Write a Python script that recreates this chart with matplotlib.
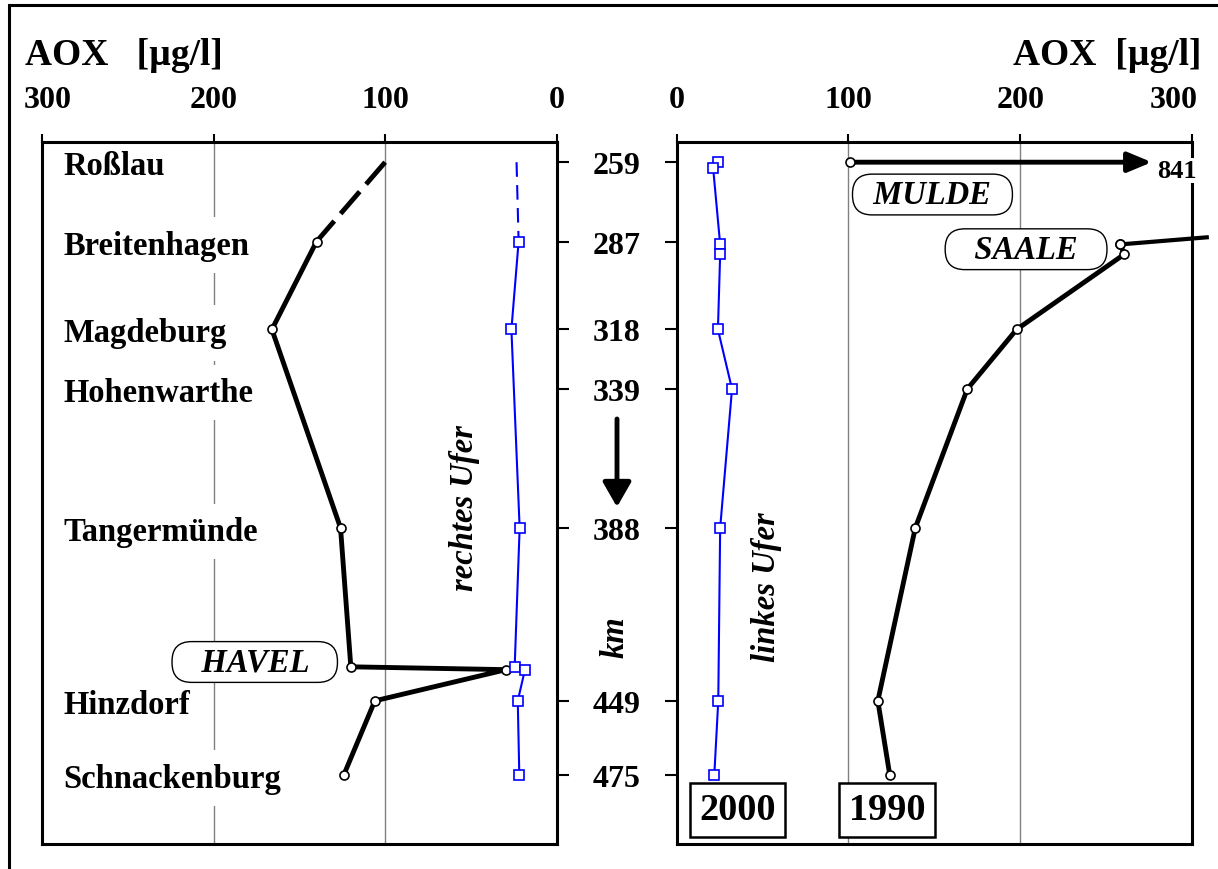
import matplotlib.pyplot as plt
from matplotlib.patches import Rectangle
from matplotlib.transforms import ScaledTranslation

# Elbe km and station names
km_ticks = [259, 287, 318, 339, 388, 449, 475]
stations = ['Roßlau', 'Breitenhagen', 'Magdeburg', 'Hohenwarthe',
            'Tangermünde', 'Hinzdorf', 'Schnackenburg']

# rechtes Ufer (left panel)
km_r90 = [259, 287, 318, 388, 437, 438, 449, 475]
aox_r90 = [100, 140, 166, 126, 120, 29.5, 106, 124]
km_r00 = [259, 287, 318, 388, 437, 438, 449, 475]
aox_r00 = [23.4, 22.2, 26.4, 21.6, 24.5, 18.5, 22.7, 21.8]

# linkes Ufer (right panel)
km_l90 = [288, 291.5, 318, 339, 388, 449, 475]
aox_l90 = [258.3, 260.5, 197.9, 169.2, 138.9, 117.1, 124.0]
km_l00 = [259, 261, 288, 291.5, 318, 339, 388, 449, 475]
aox_l00 = [24.2, 21.2, 25.3, 25.3, 24.0, 32.2, 25.3, 24.2, 21.9]

# tributaries
saale_km = [285.5, 288]
saale_aox = [308.6, 258.3]
mulde_km = 259
mulde_aox = 101
mulde_value = '841'

plt.rcParams['font.family'] = ['Liberation Serif', 'DejaVu Serif']
plt.rcParams['font.weight'] = 'bold'

W, H = 1218, 870
fig = plt.figure(figsize=(W / 100, H / 100), dpi=100)

bottom = 1 - 845 / H
height = (845 - 142.5) / H
axL = fig.add_axes([42 / W, bottom, (556.7 - 42) / W, height])
axR = fig.add_axes([676.7 / W, bottom, (1192 - 676.7) / W, height])

for ax in (axL, axR):
    ax.set_ylim(499.5, 251.7)
    ax.xaxis.tick_top()
    ax.set_xticks([0, 100, 200, 300])
    ax.tick_params(axis='x', direction='out', length=5.8, width=1.5, pad=14, labelsize=23)
    for s in ax.spines.values():
        s.set_linewidth(2.2)
    for g in (100, 200):
        ax.axvline(g, color='#808080', lw=1, zorder=0.5)
    ax.set_yticks(km_ticks)

axL.set_xlim(300, 0)
axR.set_xlim(0, 300)
axL.yaxis.tick_right()
axL.tick_params(axis='y', direction='out', length=8.6, width=1.5, labelright=False)
axR.yaxis.tick_left()
axR.tick_params(axis='y', direction='out', length=8.6, width=1.5, pad=17.5, labelsize=23)

# nudge the outer "300" labels like in the original
axL.get_xticklabels()[3].set_transform(
    axL.get_xticklabels()[3].get_transform() + ScaledTranslation(0.06, 0, fig.dpi_scale_trans))
axR.get_xticklabels()[3].set_transform(
    axR.get_xticklabels()[3].get_transform() + ScaledTranslation(-0.18, 0, fig.dpi_scale_trans))

# station names
for km, name in zip(km_ticks, stations):
    axL.text(287.6, km, name, ha='left', va='center_baseline', fontsize=23.5,
             bbox=dict(fc='white', ec='none', pad=9), zorder=1)

# left panel lines
axL.plot(aox_r90[:2], km_r90[:2], color='k', lw=3.5, dashes=(6, 2), zorder=3)
axL.plot(aox_r90[1:], km_r90[1:], color='k', lw=3.5, marker='o', ms=6.5,
         mfc='white', mec='k', mew=1.2, zorder=3)
axL.plot(aox_r00[:2], km_r00[:2], color='#0000ff', lw=1.5, dashes=(7, 4), zorder=4)
axL.plot(aox_r00[1:], km_r00[1:], color='#0000ff', lw=1.5, marker='s', ms=6.5,
         mfc='white', mec='#0000ff', mew=1.2, zorder=4)

# right panel lines
axR.annotate('', xy=(276.6, mulde_km), xytext=(mulde_aox, mulde_km),
             arrowprops=dict(arrowstyle='-|>,head_length=0.72,head_width=0.3',
                             lw=3.5, color='k', mutation_scale=20, shrinkA=0, shrinkB=0),
             zorder=3)
axR.plot([mulde_aox], [mulde_km], 'o', ms=6.5, mfc='white', mec='k', mew=1.2, zorder=5)
axR.text(279.5, 261, mulde_value, ha='left', va='center_baseline', fontsize=19,
         bbox=dict(fc='white', ec='none', pad=1), clip_on=False, zorder=6)

axR.plot(saale_aox, saale_km, color='k', lw=3, clip_on=False, zorder=3)
axR.plot(aox_l90, km_l90, color='k', lw=3.5, marker='o', ms=6.5,
         mfc='white', mec='k', mew=1.2, zorder=3, clip_on=False)
axR.plot(saale_aox[1:], saale_km[1:], 'o', ms=6.5, mfc='white', mec='k', mew=1.2, zorder=5)
axR.plot(aox_l00, km_l00, color='#0000ff', lw=1.5, marker='s', ms=6.5,
         mfc='white', mec='#0000ff', mew=1.2, zorder=4)

# tributary labels
lab = dict(ha='center', va='center', fontsize=23.5, style='italic', zorder=2)
axL.text(176, 435.3, '   HAVEL   ',
         bbox=dict(boxstyle='round,pad=0.15,rounding_size=0.6', fc='white', ec='k', lw=1), **lab)
axR.text(148.9, 270.4, '  MULDE  ',
         bbox=dict(boxstyle='round,pad=0.15,rounding_size=0.6', fc='white', ec='k', lw=1), **lab)
axR.text(203.4, 289.7, '   SAALE   ',
         bbox=dict(boxstyle='round,pad=0.15,rounding_size=0.6', fc='white', ec='k', lw=1), **lab)

# bank labels
axL.text(54, 380.6, 'rechtes Ufer', rotation=90, ha='center', va='center',
         fontsize=23.5, style='italic')
axR.text(52, 408.5, 'linkes Ufer', rotation=90, ha='center', va='center',
         fontsize=23.5, style='italic')
fig.text(615 / W, 1 - 637 / H, 'km', rotation=90, ha='center', va='center',
         fontsize=23.5, style='italic')

# year boxes
for x, yr in [(35.4, '2000'), (122.4, '1990')]:
    axR.text(x, 487.5, yr, ha='center', va='center', fontsize=27.5,
             bbox=dict(boxstyle='square,pad=0.25', fc='white', ec='k', lw=1.8))

# flow direction arrow
axR.annotate('', xy=(617, H - 508), xycoords='figure pixels',
             xytext=(617, H - 420), textcoords='figure pixels',
             arrowprops=dict(arrowstyle='-|>,head_length=0.75,head_width=0.43',
                             lw=3.5, color='k', mutation_scale=20, shrinkA=0, shrinkB=0),
             annotation_clip=False)

# axis titles
fig.text(25 / W, 1 - 65 / H, 'AOX   [µg/l]', ha='left', va='baseline', fontsize=27)
fig.text(1201 / W, 1 - 65 / H, 'AOX  [µg/l]', ha='right', va='baseline', fontsize=27)

# outer frame
fig.add_artist(Rectangle((8.5 / W, -0.5), 2, 1.5 - 6 / H, transform=fig.transFigure,
                         fill=False, lw=2.2, ec='k'))

fig.savefig('out.png', dpi=100)
